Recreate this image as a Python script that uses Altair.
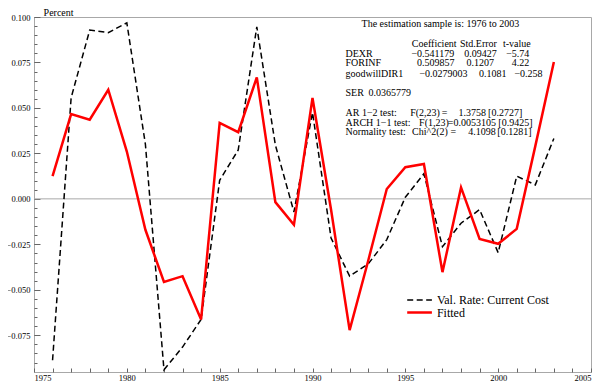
import altair as alt
import pandas as pd

# ---------------- data ----------------
years = list(range(1976, 2004))
actual = [-0.0887, 0.0556, 0.0928, 0.0914, 0.0968, 0.030, -0.0940, -0.0815,
          -0.0663, 0.0102, 0.0269, 0.0946, 0.0296, -0.0072, 0.0475, -0.0215,
          -0.0425, -0.0358, -0.0224, 0.0009, 0.0138, -0.0263, -0.0134, -0.0059,
          -0.0296, 0.0125, 0.0077, 0.0332]
fitted = [0.0125, 0.0466, 0.0435, 0.0600, 0.0260, -0.0170, -0.0457, -0.0425,
          -0.0663, 0.0418, 0.0367, 0.0668, -0.0018, -0.0143, 0.0555, -0.0060,
          -0.0722, -0.0340, 0.0054, 0.0174, 0.0192, -0.0403, 0.0063, -0.0220,
          -0.0247, -0.0165, 0.0290, 0.0753]
series_names = ["Val. Rate: Current Cost", "Fitted"]

x_label_ticks = [1975, 1980, 1985, 1990, 1995, 2000, 2005]
x_minor_ticks = list(range(1975, 2006))
y_major_ticks = [-0.075, -0.05, -0.025, 0.0, 0.025, 0.05, 0.075, 0.1]
y_minor_ticks = [round(-0.090 + 0.005 * i, 3) for i in range(39)]

stats_title = "The estimation sample is: 1976 to 2003"
table_header = ["Coefficient", "Std.Error", "t-value"]
table_rows = [
    ["DEXR", "\u22120.541179", "0.09427", "\u22125.74"],
    ["FORINF", "0.509857", "0.1207", "4.22"],
    ["goodwillDIR1", "\u22120.0279003", "0.1081", "\u22120.258"],
]
ser_text = ["SER", "0.0365779"]
test_rows = [
    ["AR 1\u22122 test:", "F(2,23)", "=", "1.3758", "[0.2727]"],
    ["ARCH 1\u22121 test:", "F(1,23)", "=0.0053105", "[0.9425]"],
    ["Normality test:", "Chi^2(2) =", "4.1098", "[0.1281]"],
]

df = pd.DataFrame({"year": years, "actual": actual, "fitted": fitted})
one = pd.DataFrame({"k": [0]})

# ---------------- layout / style ----------------
W, H = 557, 355
FONT = "Liberation Serif"
FRAME = "#a8a8a8"
TICK = "#666666"

xs = alt.Scale(domain=[1975, 2005], nice=False, zero=False)
ys = alt.Scale(domain=[-0.0952, 0.1], nice=False, zero=False)

# zero line + major y ticks (inside)
zero = alt.Chart(one).mark_rule(color=FRAME, strokeWidth=1).encode(
    y=alt.YDatum(0, type="quantitative", scale=ys,
                 axis=alt.Axis(orient="right", offset=-W, values=y_major_ticks,
                               labels=False, domain=False, grid=False,
                               tickSize=6, tickColor=TICK, title=None))
)

line_actual = alt.Chart(df).mark_line(
    color="black", strokeWidth=1.5, strokeDash=[6, 3.5]
).encode(
    x=alt.X("year:Q", scale=xs,
            axis=alt.Axis(orient="bottom", values=x_label_ticks, format="d",
                          ticks=False, domain=False, grid=False,
                          labelFont=FONT, labelFontSize=8.5, labelColor="black",
                          labelPadding=1, title=None)),
    y=alt.Y("actual:Q", scale=ys,
            axis=alt.Axis(orient="left", values=y_major_ticks, format=".3f",
                          ticks=False, domain=False, grid=False,
                          labelFont=FONT, labelFontSize=8.5, labelColor="black",
                          labelPadding=4, title=None)),
)

line_fitted = alt.Chart(df).mark_line(color="#ff0000", strokeWidth=2.5).encode(
    x=alt.X("year:Q", scale=xs,
            axis=alt.Axis(orient="top", offset=-H, values=x_minor_ticks,
                          labels=False, domain=False, grid=False,
                          tickSize=4, tickColor=TICK, title=None)),
    y=alt.Y("fitted:Q", scale=ys,
            axis=alt.Axis(orient="right", offset=-W, values=y_minor_ticks,
                          labels=False, domain=False, grid=False,
                          tickSize=3, tickColor=TICK, title=None)),
)


def txt(s, x, y, size=10, align="left", baseline="alphabetic"):
    return alt.Chart(one).mark_text(
        text=s, font=FONT, fontSize=size, align=align, baseline=baseline,
        color="black"
    ).encode(x=alt.value(x), y=alt.value(y))


texts = [txt("Percent", 9.6, -1.5), txt(stats_title, 406.4, 10.3, align="center")]

hx = [377.8, 426.0, 469.0]
for s, x in zip(table_header, hx):
    texts.append(txt(s, x, 29.9))
row_x = [[311.5, 377.4, 430.3, 472.2],
         [311.5, 383.1, 432.6, 477.8],
         [311.5, 385.4, 445.1, 480.4]]
row_y = [39.6, 49.4, 59.5]
for row, xr, y in zip(table_rows, row_x, row_y):
    for s, x in zip(row, xr):
        texts.append(txt(s, x, y))
texts.append(txt(ser_text[0], 311.5, 79.3))
texts.append(txt(ser_text[1], 334.6, 79.3))
test_x = [[311.5, 376.2, 407.8, 424.4, 454.1],
          [311.5, 385.1, 413.8, 464.3],
          [311.5, 378.1, 434.3, 463.3]]
test_y = [98.9, 108.6, 118.4]
for row, xr, y in zip(test_rows, test_x, test_y):
    for s, x in zip(row, xr):
        texts.append(txt(s, x, y))

# legend
leg_dash = alt.Chart(one).mark_rule(
    color="black", strokeWidth=1.5, strokeDash=[6, 3.5]
).encode(x=alt.value(373.2), x2=alt.value(397.9), y=alt.value(283.0))
leg_red = alt.Chart(one).mark_rule(color="#ff0000", strokeWidth=2.5).encode(
    x=alt.value(373.2), x2=alt.value(397.9), y=alt.value(295.5))
leg_t1 = txt(series_names[0], 402.9, 283.0, size=12, baseline="middle")
leg_t2 = txt(series_names[1], 402.9, 296.0, size=12, baseline="middle")

chart = alt.layer(
    zero, line_actual, line_fitted, leg_dash, leg_red, leg_t1, leg_t2, *texts
).properties(
    width=W, height=H,
    autosize=alt.AutoSizeParams(type="none"),
    padding={"left": 26, "top": 9, "right": 1, "bottom": 10},
).configure_view(stroke=FRAME, strokeWidth=1)

chart.save("out.html", embed_options={"renderer": "svg", "actions": False})
